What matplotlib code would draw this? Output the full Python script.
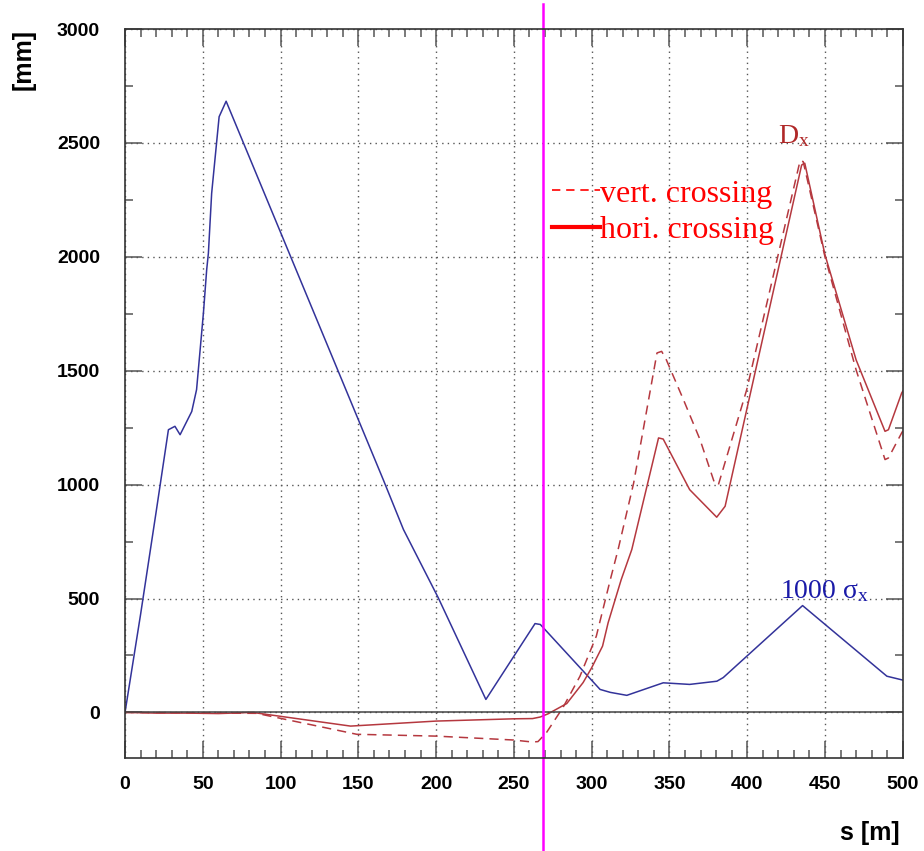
import matplotlib.pyplot as plt
from matplotlib.lines import Line2D
from matplotlib.ticker import MultipleLocator

# 1000 * sigma_x along s [mm]
s_sigma = [0, 10, 20, 27.9, 32.1, 35.4, 42.9, 46, 50.4, 52.5, 53.6, 55.7, 59, 60.5, 65,
           166, 179, 201.4, 232, 263.6, 267, 305.4, 312, 322.6, 346, 363, 380.5, 384.6,
           435.6, 489.8, 500]
sigma = [0, 430, 880, 1241, 1256, 1219, 1321, 1417, 1753, 1943, 2016, 2279, 2510, 2615, 2683,
         1022, 803, 503, 57, 390, 386, 101, 88, 75, 130, 123, 137, 153,
         469, 159, 142]

# D_x, horizontal crossing (solid)
s_dx_hori = [0, 20, 40, 60, 82, 145, 200, 250, 262, 267, 272, 284, 294.5, 300, 307, 310.6,
             319, 325.8, 343, 346, 363, 380.4, 385.8, 399.7, 435, 437, 450, 470, 488.6,
             490.8, 499.3, 500]
dx_hori = [0, -3, -3, -5, 0, -60, -38, -28, -27, -20, -6, 39, 131, 196, 291, 394,
           583, 715, 1205, 1200, 978, 857, 905, 1329, 2403, 2411, 2009, 1548, 1234,
           1241, 1402, 1410]

# D_x, vertical crossing (dashed)
s_dx_vert = [0, 84.6, 149, 200, 249.5, 262, 265.5, 271, 281.6, 292.5, 303, 312, 317, 327,
             342, 345, 348, 359, 369.7, 379, 381.5, 399.7, 434, 436, 450, 470, 488.6,
             490.8, 499.3, 500]
dx_vert = [0, -4, -96, -104, -121, -130, -128, -88, 22, 159, 335, 583, 715, 1007,
           1578, 1585, 1548, 1373, 1197, 1007, 1000, 1417, 2422, 2418, 2000, 1504, 1110,
           1117, 1227, 1235]

s_marker = 268.7

x_major = 50
x_minor = 10
y_major = 500
y_minor = 250

legend_labels = ['vert. crossing', 'hori. crossing']


def main():
    # serif, upright glyphs for the annotations
    plt.rcParams['mathtext.fontset'] = 'custom'
    plt.rcParams['mathtext.rm'] = 'Liberation Serif'
    plt.rcParams['mathtext.it'] = 'Liberation Serif'

    fig = plt.figure(figsize=(9.24, 8.51), dpi=100)
    ax = fig.add_axes([0.1353, 0.1093, 0.8417, 0.8566])

    blue = '#33339a'
    red = '#b5383f'

    ax.plot(s_sigma, sigma, color=blue, lw=1.1)
    ax.plot(s_dx_hori, dx_hori, color=red, lw=1.1)
    ax.plot(s_dx_vert, dx_vert, color=red, lw=1.1, ls=(0, (6, 4)))

    # zero line
    ax.axhline(0, color='#444444', lw=1.1)

    ax.set_xlim(0, 500)
    ax.set_ylim(-200, 3000)

    # ticks / grid
    ax.xaxis.set_major_locator(MultipleLocator(x_major))
    ax.xaxis.set_minor_locator(MultipleLocator(x_minor))
    ax.yaxis.set_major_locator(MultipleLocator(y_major))
    ax.yaxis.set_minor_locator(MultipleLocator(y_minor))
    ax.tick_params(which='both', direction='in', top=True, right=True,
                   color='#555555', width=1.1)
    ax.tick_params(which='major', length=12)
    ax.tick_params(which='minor', length=5.5)
    ax.tick_params(axis='y', pad=18)
    ax.tick_params(axis='x', pad=13)
    for lab in ax.get_xticklabels() + ax.get_yticklabels():
        lab.set_fontfamily('Liberation Sans')
        lab.set_fontweight('bold')
        lab.set_fontsize(14)
    ax.grid(which='major', color='#555555', lw=1.0, ls=(0, (1, 3)))
    for sp in ax.spines.values():
        sp.set_color('#333333')
        sp.set_linewidth(1.2)

    fig.text(0.026, 0.966, '[mm]', rotation=90, ha='center', va='top',
             fontsize=18, fontweight='bold', family='Liberation Sans')
    fig.text(0.974, 0.013, 's [m]', ha='right', va='baseline',
             fontsize=18, fontweight='bold', family='Liberation Sans')

    # curve annotations
    ax.text(420, 2500, r'$\mathrm{D}_\mathrm{x}$', color='#b02828', fontsize=20,
            ha='left', va='baseline')
    ax.text(421, 504, r'$\mathrm{1000\ }\sigma_\mathrm{x}$', color='#1a1aa8', fontsize=20,
            ha='left', va='baseline')

    # legend
    handles = [Line2D([], [], color='red', lw=1.2, ls=(0, (5, 3.5))),
               Line2D([], [], color='red', lw=3)]
    ax.legend(handles, legend_labels, loc='upper left', bbox_to_anchor=(0.5487, 0.794),
              frameon=False, borderpad=0, borderaxespad=0, handlelength=1.5,
              handletextpad=0.0, labelspacing=0.22, labelcolor='red',
              prop={'family': 'Liberation Serif', 'size': 23})

    # vertical marker line crossing the whole figure
    ax.axvline(s_marker, ymin=-0.2, ymax=1.034, color='#ff00ff', lw=1.8, clip_on=False)

    fig.savefig('out.png', dpi=100)


if __name__ == "__main__":
    main()
